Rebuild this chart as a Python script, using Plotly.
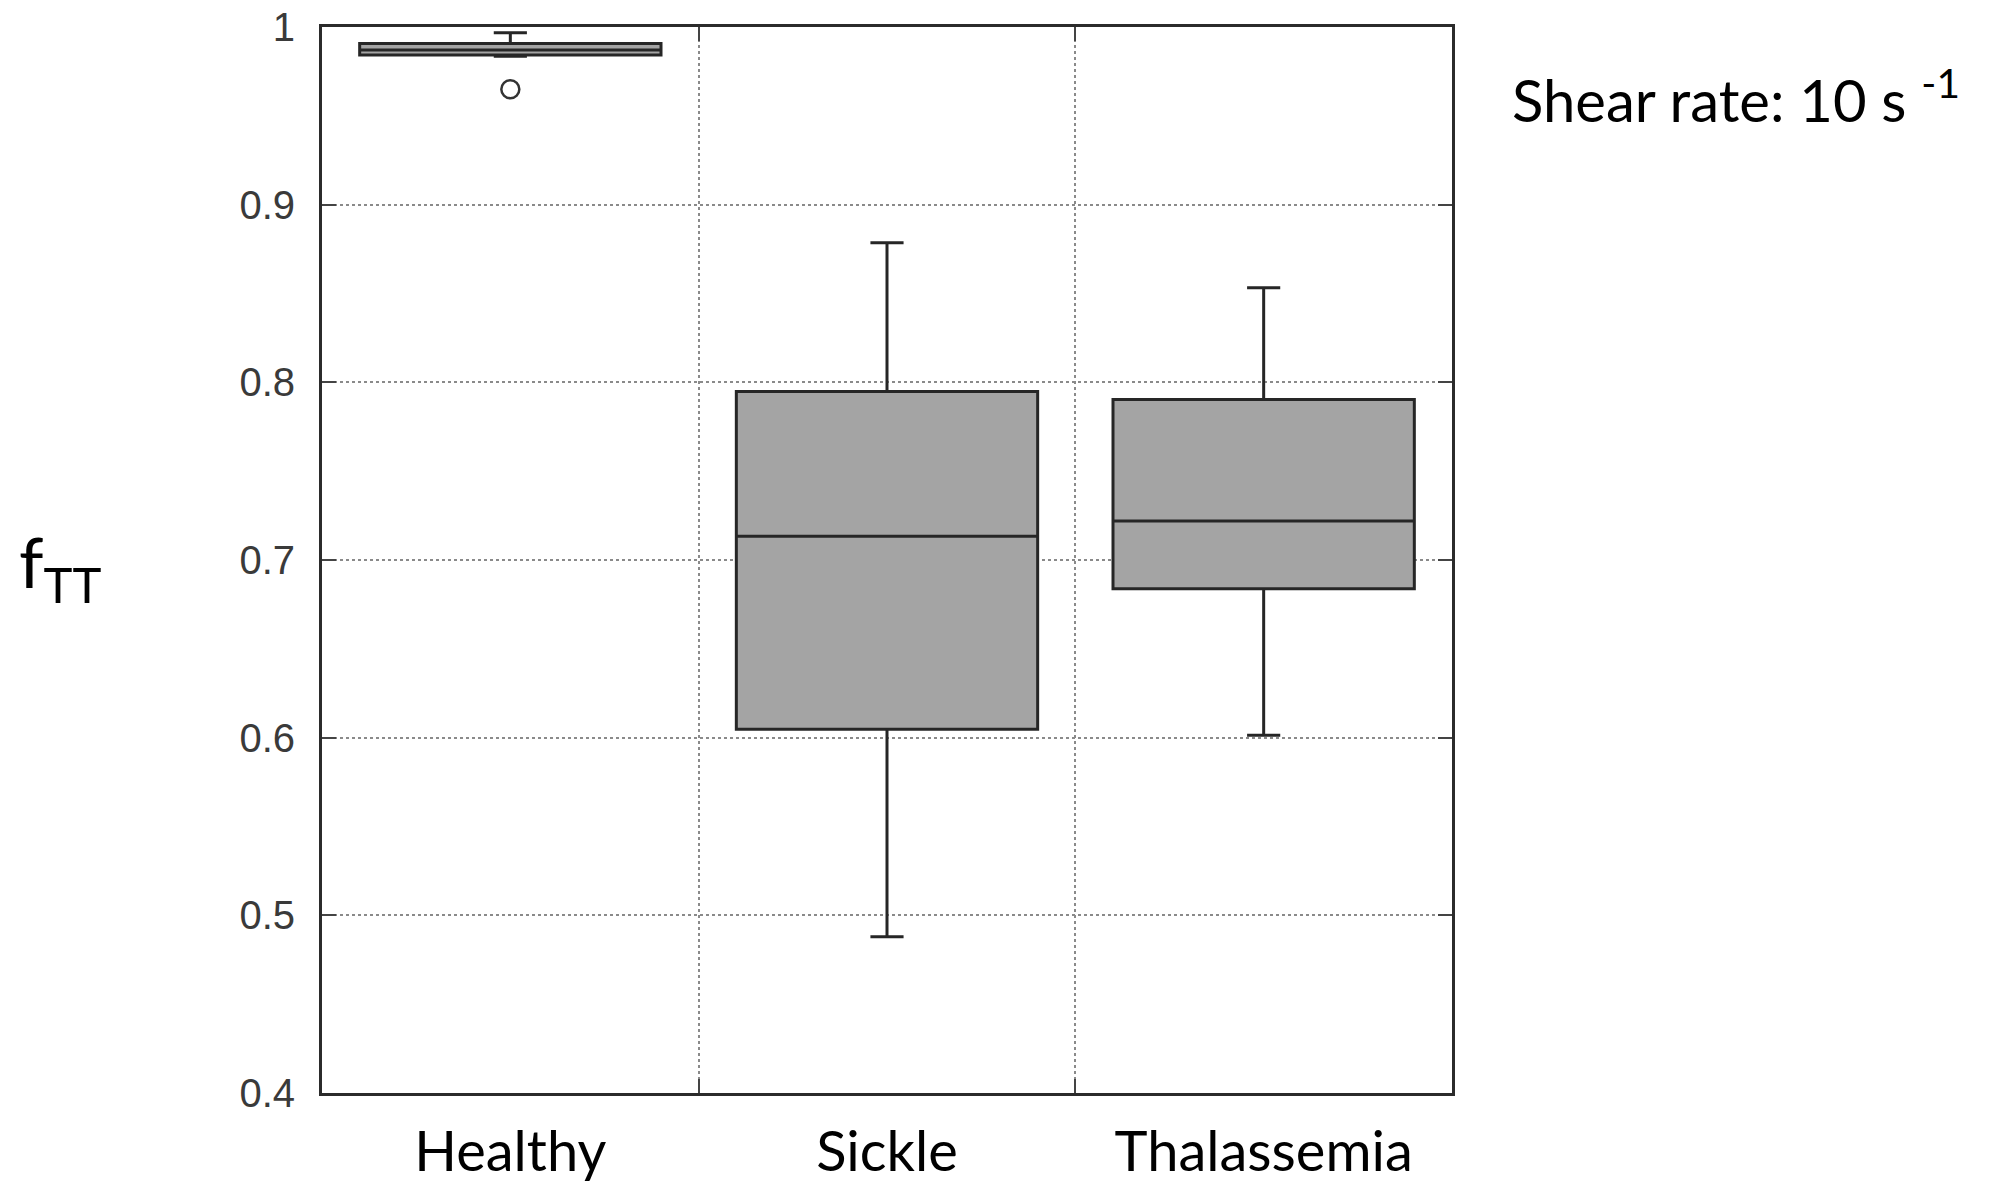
import plotly.graph_objects as go

# Tank-treading fraction per blood group (box summary statistics)
groups = ["Healthy", "Sickle", "Thalassemia"]
lower_whisker = [0.9835, 0.488, 0.6014]
q1 = [0.9842, 0.6048, 0.6838]
median = [0.9870, 0.7134, 0.7220]
q3 = [0.9907, 0.7949, 0.7903]
upper_whisker = [0.9968, 0.8785, 0.8532]

# Outlying observations
outlier_groups = ["Healthy"]
outlier_values = [0.965]

y_ticks = [0.4, 0.5, 0.6, 0.7, 0.8, 0.9, 1.0]

label_font = "Lato"
frame_color = "#2b2b2b"

fig = go.Figure()

fig.add_trace(go.Box(
    x=groups,
    q1=q1,
    median=median,
    q3=q3,
    lowerfence=lower_whisker,
    upperfence=upper_whisker,
    width=0.8,
    whiskerwidth=0.11,
    fillcolor="#a4a4a4",
    line=dict(color="#262626", width=3),
    boxpoints=False,
    showlegend=False,
    hoverinfo="skip",
))

fig.add_trace(go.Scatter(
    x=outlier_groups,
    y=outlier_values,
    mode="markers",
    marker=dict(symbol="circle-open", size=18, color="#333333",
                line=dict(width=2.5, color="#333333")),
    showlegend=False,
    hoverinfo="skip",
))

fig.update_xaxes(
    type="category",
    categoryorder="array",
    categoryarray=groups,
    range=[-0.5, 2.5],
    tickson="boundaries",
    showgrid=True,
    gridcolor="#8a8a8a",
    gridwidth=2,
    griddash="dot",
    showline=True,
    linecolor=frame_color,
    linewidth=3,
    mirror="ticks",
    ticks="inside",
    ticklen=14,
    tickwidth=2,
    tickcolor="#444444",
    ticklabelstandoff=8,
    tickfont=dict(family=label_font, size=56, color="#000000"),
    zeroline=False,
    automargin=False,
)

fig.update_yaxes(
    range=[0.4, 1.0],
    tickvals=y_ticks,
    ticktext=[("1" if v == 1.0 else f"{v:.1f}") for v in y_ticks],
    showgrid=True,
    gridcolor="#8a8a8a",
    gridwidth=2,
    griddash="dot",
    showline=True,
    linecolor=frame_color,
    linewidth=3,
    mirror="ticks",
    ticks="inside",
    ticklen=14,
    tickwidth=2,
    tickcolor="#444444",
    ticklabelstandoff=16,
    tickfont=dict(family="Liberation Sans", size=40, color="#3a3a3a"),
    zeroline=False,
    automargin=False,
)

fig.add_annotation(
    text="Shear rate: 10 s <sup>-1</sup>",
    xref="paper", yref="paper",
    x=1.0513, y=0.935,
    xanchor="left", yanchor="middle",
    showarrow=False,
    font=dict(family=label_font, size=58, color="#000000"),
)

fig.add_annotation(
    text="f<sub>TT</sub>",
    xref="paper", yref="paper",
    x=-0.27, y=0.494,
    xanchor="left", yanchor="middle",
    showarrow=False,
    font=dict(family=label_font, size=70, color="#000000"),
)

fig.update_layout(
    width=1993,
    height=1189,
    margin=dict(l=322, r=541, t=27, b=96),
    paper_bgcolor="white",
    plot_bgcolor="white",
)

fig.write_html("out.html")
